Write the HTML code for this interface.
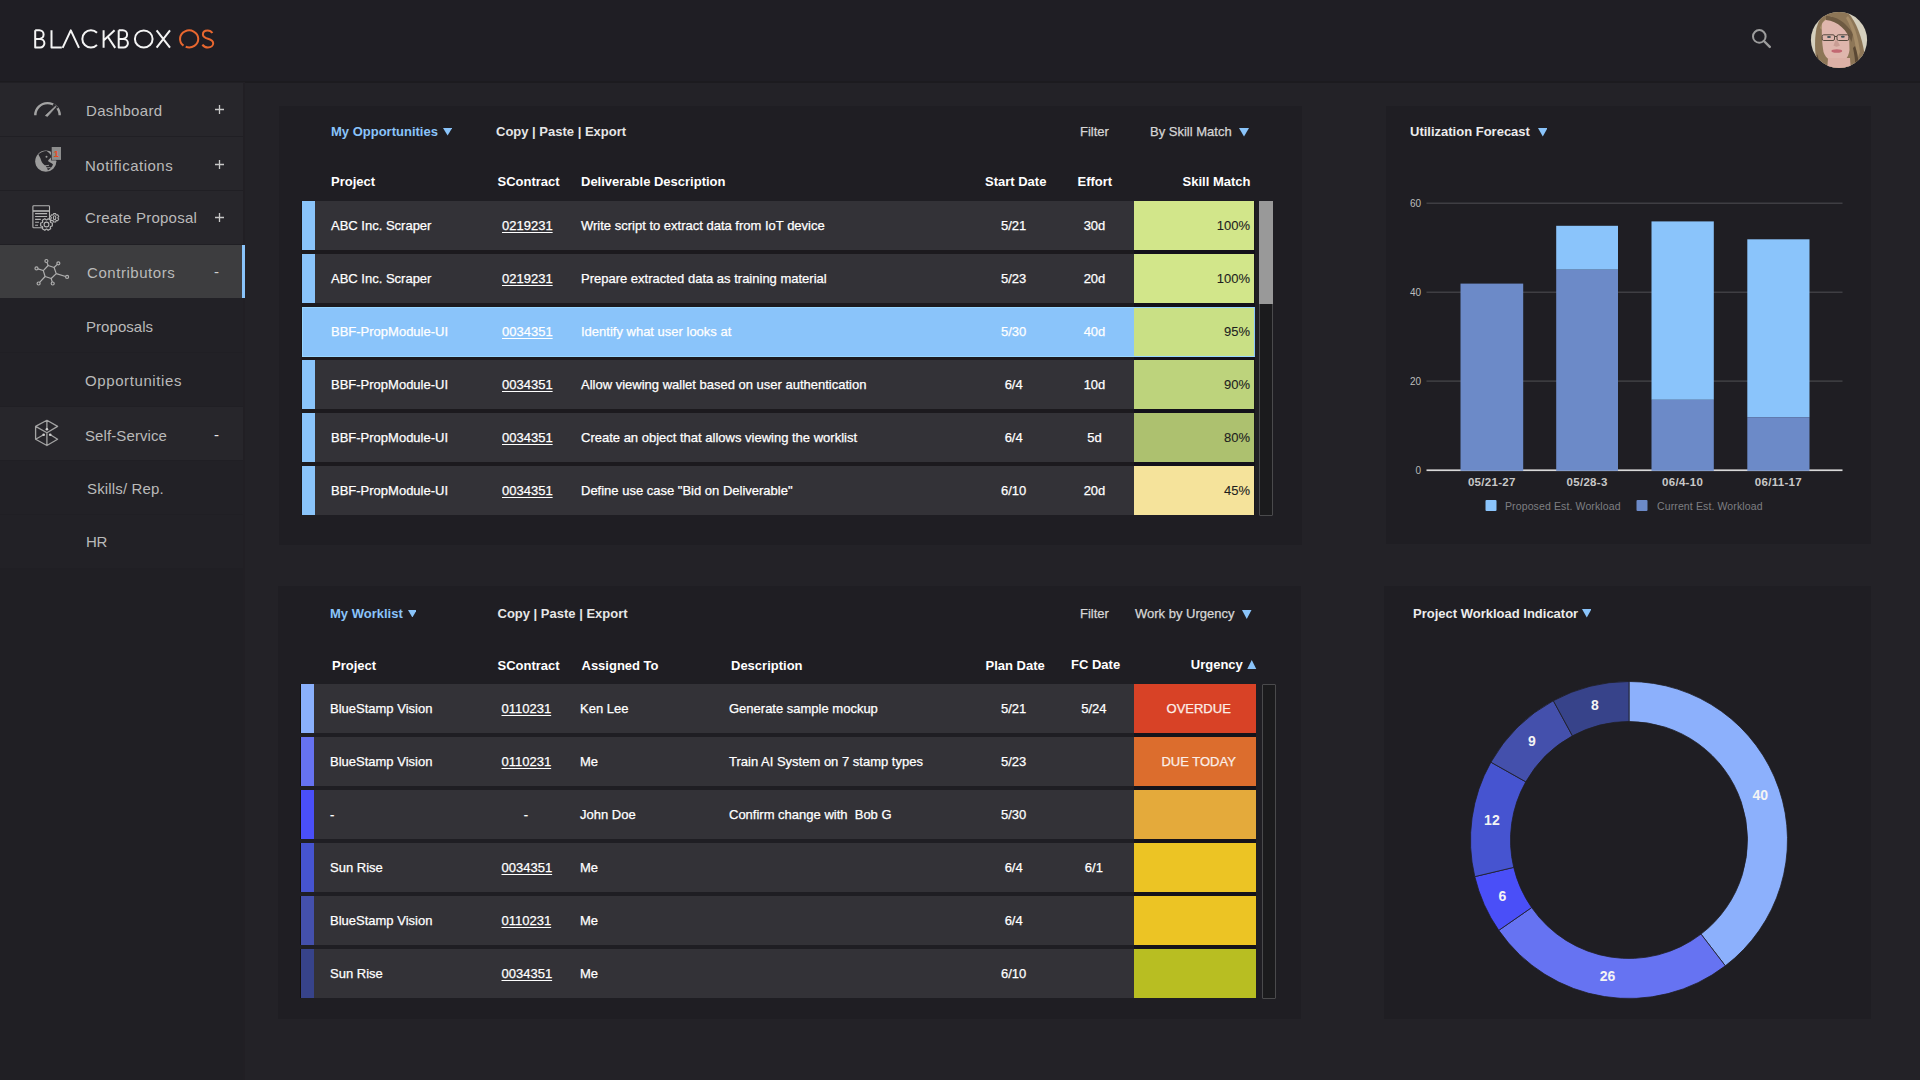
<!DOCTYPE html>
<html><head><meta charset="utf-8">
<style>
*{margin:0;padding:0;box-sizing:border-box}
html,body{width:1920px;height:1080px;overflow:hidden;background:#232227;font-family:"Liberation Sans",sans-serif}
.abs{position:absolute}
#header{position:absolute;left:0;top:0;width:1920px;height:83px;background:#1f1e24;border-bottom:2px solid #1c1b1f}
#side{position:absolute;left:0;top:82px;width:243px;height:998px;background:#201f24}
#sideline{position:absolute;left:243px;top:82px;width:2px;height:998px;background:#211f24}
.si{position:absolute;left:0;width:243px;color:#bababa;font-size:15px}
.si .t{position:absolute;white-space:nowrap}
.si .pm{position:absolute;left:214px;width:11px;height:11px}
.main{background:#27262b}
.sub{background:#222126}
.panel{position:absolute;background:#1f1e23}
.txt{position:absolute;white-space:nowrap;font-size:13px;color:#fff;line-height:16px;-webkit-text-stroke:0.25px currentColor}
.txt.b{-webkit-text-stroke:0}
.b{font-weight:bold}
.blue{color:#8ac4fa}
.row{position:absolute;left:302px;height:49px;background:#333237}
.bar{position:absolute;left:0;top:0;width:13px;height:49px}
.u{text-decoration:underline;text-underline-offset:2px}
</style></head>
<body>
<div id="header">
  <svg class="abs" style="left:0;top:0" width="240" height="82" fill="none" stroke-width="2">
    <g stroke="#f4f4f4" stroke-linejoin="round">
      <path d="M35.2,30.3V47.5H40.1a4.3,4.3 0 0 0 0-8.6H35.2M35.2,38.9H39.3a4.3,4.3 0 0 0 0-8.6H35.2"/>
      <path d="M51.5,30.3V47.5H61.8"/>
      <path d="M62.6,47.9L70.8,30.4L79.0,47.9"/>
      <path d="M97.0,32.8A8.6,8.6 0 1 0 97.0,45.0"/>
      <path d="M103.6,30.3V47.7M114.6,30.3L103.9,40.3M107.8,36.8L115.2,47.9"/>
      <path d="M118.7,30.3V47.5H123.6a4.3,4.3 0 0 0 0-8.6H118.7M118.7,38.9H122.8a4.3,4.3 0 0 0 0-8.6H118.7"/>
      <ellipse cx="143.75" cy="38.9" rx="8.85" ry="8.5"/>
      <path d="M156.6,30.3L170,47.7M170,30.3L156.6,47.7"/>
    </g>
    <g stroke="#e8672f">
      <path d="M183.5,45.6A9.1,8.5 0 1 1 185.7,46.8"/>
      <path d="M212.4,33.0C211.3,31.3 209.6,30.4 207.6,30.4C204.7,30.4 202.9,32.2 202.9,34.4C202.9,39.9 213.2,37.6 213.2,43.3C213.2,45.8 211.0,47.5 207.9,47.5C205.5,47.5 203.6,46.4 202.4,44.6"/>
    </g>
  </svg>
  <svg class="abs" style="left:1745px;top:22px" width="35" height="35" fill="none" stroke="#9d9d9d" stroke-width="2">
    <circle cx="14.3" cy="14.4" r="6.3"/><path d="M18.9,19L24.8,24.9" stroke-width="2.4" stroke-linecap="round"/>
  </svg>
  <svg class="abs" style="left:1806px;top:8px" width="66" height="64">
    <defs><clipPath id="av"><circle cx="33" cy="32" r="28.1"/></clipPath></defs>
    <g clip-path="url(#av)">
      <rect x="0" y="0" width="66" height="64" fill="#d5d0be"/>
      <path d="M18,5 C26,2 36,2 42,5 C50,13 56,29 58.5,46 L57,56 L46,64 L20,64 L11,56 C8.5,45 8.5,30 10.5,20 C12.5,13 15,8.5 18,5Z" fill="#8d7657"/>
      <path d="M14,20 C16,14 20,9 26,8 L24,12 C19,14 17,18 16,22Z" fill="#a88f6c"/>
      <path d="M16,16 C18,11 24,10 28,11 C34,12 40,18 43,24 L43.5,42 C42.5,50 38.5,54 33,54.5 C26,54.5 19.5,50.5 17.5,44 C16,36 15.5,25 16,16Z" fill="#dfb6ad"/>
      <path d="M22,50 L44,50 L45,64 L21,64Z" fill="#dcb0a6"/>
      <path d="M20,8 C30,8 40,14 47,26 L45.5,34 C41,22 32,13 20,12Z" fill="#6e5a42"/>
      <path d="M42,8 C48,16 52,28 54,44 L51,52 C50,36 47,22 40,10Z" fill="#a58c68"/>
      <path d="M11,46 C13,54 17,60 22,64 L16,64 C12,60 10.5,53 11,46Z" fill="#4d3e30"/>
      <path d="M47,40 C49,50 50,56 48,62 L52,60 C53,54 52,46 49,38Z" fill="#5a4834"/>
      <rect x="16.2" y="26.8" width="12.3" height="5.7" rx="1.5" fill="none" stroke="#55493e" stroke-width="1"/>
      <rect x="31" y="26.8" width="11.8" height="5.7" rx="1.5" fill="none" stroke="#55493e" stroke-width="1"/>
      <path d="M28.5,28.5 L31,28.5" stroke="#55493e" stroke-width="1"/>
      <ellipse cx="23" cy="29" rx="2" ry="1" fill="#3f5258"/>
      <ellipse cx="36.8" cy="28.8" rx="2" ry="1" fill="#3f5258"/>
      <path d="M29.5,32 L27.5,37.5 C29,39 32,39 34,37.5 L31.5,33Z" fill="#c99d94"/>
      <ellipse cx="30.8" cy="43" rx="5.4" ry="1.8" fill="#c26872"/>
    </g>
  </svg>
</div>

<div id="side"></div>
<div id="sideline"></div>
<!-- sidebar items -->
<div class="si main" style="top:83px;height:53px">
  <svg class="abs" style="left:0;top:-1px" width="70" height="54" fill="none" stroke="#a3a3a3">
    <path d="M35.3,33.3A12.2,12.2 0 0 1 59.7,33.3" stroke-width="2.4"/>
    <path d="M53.2,22.4L57.6,26.2" stroke="#27262b" stroke-width="2.2"/>
    <path d="M45.3,33.6L47.4,34.6L56.2,24.6L55.6,24.1Z" fill="#a3a3a3" stroke-width="0.6"/>
  </svg>
  <span class="t" style="left:86px;top:19px;letter-spacing:0.35px">Dashboard</span>
  <svg class="pm" style="top:21px" viewBox="0 0 11 11"><path d="M1,5.5H10M5.5,1V10" stroke="#c8c8c8" stroke-width="1.3"/></svg>
</div>
<div class="si main" style="top:137px;height:53px">
  <svg class="abs" style="left:0;top:0" width="70" height="53">
    <circle cx="45.8" cy="24.2" r="10.6" fill="#9c9c9c"/>
    <path d="M38.5,17.2C40.5,15.5 43.5,14.3 46.5,14.1C48.5,15.5 50.5,17 51.5,19.5C50.8,21.5 48.5,22 48,24C49.5,25.5 52,25.8 53,27.5C52.2,30 50,32 48,33.2C46.8,31.5 46.5,29 44.5,28C42.5,26.5 41,24 40.5,21.5C39.8,19.8 38.8,18.5 38.5,17.2Z" fill="#27262b"/>
    <circle cx="46.5" cy="19.8" r="1" fill="#9c9c9c"/>
    <path d="M45,28.8L49,28.3M46,31L50.5,30.5" stroke="#9c9c9c" stroke-width="0.9"/>
    <rect x="51" y="9.4" width="10.6" height="14" fill="#27262b"/>
    <rect x="51.7" y="10" width="9.3" height="12.9" fill="#8d8d8d"/>
    <text x="56.1" y="19.9" font-family="Liberation Sans" font-weight="bold" font-size="9.5" fill="#e84a1e" text-anchor="middle">1</text>
  </svg>
  <span class="t" style="left:85px;top:20px;letter-spacing:0.5px">Notifications</span>
  <svg class="pm" style="top:22px" viewBox="0 0 11 11"><path d="M1,5.5H10M5.5,1V10" stroke="#c8c8c8" stroke-width="1.3"/></svg>
</div>
<div class="si main" style="top:191px;height:53px">
  <svg class="abs" style="left:0;top:0" width="70" height="53" fill="none" stroke="#b4b4b4" stroke-width="1.1" stroke-linejoin="round">
    <rect x="32.9" y="14.800000000000011" width="16.6" height="22.0" rx="0.8"/>
    <path d="M33,20H49.4" stroke-width="1.6"/>
    <path d="M35.1,22.599999999999994H47.1M35.1,25.5H47.1M35.1,28.400000000000006H40.8M35.1,31.30000000000001H38.9M35.1,34.19999999999999H38"/>
    <path d="M50.63,31.48 L52.32,32.05 L52.32,34.95 L50.63,35.52 L50.31,36.07 L50.67,37.82 L48.15,39.27 L46.82,38.09 L46.18,38.09 L44.85,39.27 L42.33,37.82 L42.69,36.07 L42.37,35.52 L40.68,34.95 L40.68,32.05 L42.37,31.48 L42.69,30.93 L42.33,29.18 L44.85,27.73 L46.18,28.91 L46.82,28.91 L48.15,27.73 L50.67,29.18 L50.31,30.93Z" fill="#27262b" stroke-width="1.2"/>
    <circle cx="46.5" cy="33.5" r="2.4"/>
    <path d="M57.89,27.03 L58.73,27.99 L57.69,29.79 L56.45,29.54 L56.05,29.77 L55.64,30.97 L53.56,30.97 L53.15,29.77 L52.75,29.54 L51.51,29.79 L50.47,27.99 L51.31,27.03 L51.31,26.57 L50.47,25.61 L51.51,23.81 L52.75,24.06 L53.15,23.83 L53.56,22.63 L55.64,22.63 L56.05,23.83 L56.45,24.06 L57.69,23.81 L58.73,25.61 L57.89,26.57Z" fill="#27262b" stroke-width="1.1"/>
    <ellipse cx="54.6" cy="26.80000000000001" rx="1.2" ry="2" />
  </svg>
  <span class="t" style="left:85px;top:18px;letter-spacing:0.25px">Create Proposal</span>
  <svg class="pm" style="top:21px" viewBox="0 0 11 11"><path d="M1,5.5H10M5.5,1V10" stroke="#c8c8c8" stroke-width="1.3"/></svg>
</div>
<div class="si" style="top:245px;height:53px;background:#3d3d3f">
  <svg class="abs" style="left:0;top:0" width="72" height="53" fill="none" stroke="#aeaeae" stroke-width="1.2" stroke-linejoin="round">
    <path d="M48.15,20.50 L54.1,22.50 L56.25,28.60 L51.2,33.50 L45.1,31.50 L43.3,25.55Z"/>
    <path d="M48.15,20.50L46.94,17.40M54.1,22.50L57.28,19.35M43.3,25.55L37.93,23.89M56.25,28.60L65.66,31.46M45.1,31.50L39.62,37.40M51.2,33.50L52.27,37.06"/>
    <circle cx="46.4" cy="16.00" r="1.5"/><circle cx="58.35" cy="18.30" r="1.5"/><circle cx="36.5" cy="23.45" r="1.5"/><circle cx="67.1" cy="31.90" r="1.5"/><circle cx="38.6" cy="38.50" r="1.5"/><circle cx="52.7" cy="38.50" r="1.5"/>
  </svg>
  <span class="t" style="left:87px;top:19px;letter-spacing:0.55px">Contributors</span>
  <span class="t" style="left:214px;top:18px;color:#d0d0d0">-</span>
  <div class="abs" style="left:242px;top:0;width:3px;height:53px;background:#8ac4fa"></div>
</div>
<div class="si sub" style="top:298px;height:54px"><span class="t" style="left:86px;top:20px;letter-spacing:0.05px">Proposals</span></div>
<div class="si sub" style="top:353px;height:53px"><span class="t" style="left:85px;top:19px;letter-spacing:0.6px">Opportunities</span></div>
<div class="si main" style="top:407px;height:53px">
  <svg class="abs" style="left:0;top:0" width="70" height="53" fill="none" stroke="#a3a3a3" stroke-width="1.3" stroke-linejoin="round" stroke-linecap="round">
    <path d="M35.6,19.4L46.9,13.3L57.6,19.4L46.9,25.7L35.6,19.4V32.2L46.9,38.5L57.6,32.2L51.2,28.3M35.6,32.2L42.7,28.3M46.9,25.7V38.5M46.9,13.3V21.4"/>
    <g fill="#d0d0d0" stroke="none"><circle cx="46.9" cy="22.3" r="1.3"/><circle cx="43.7" cy="27.8" r="1.3"/><circle cx="50.2" cy="27.8" r="1.3"/></g>
  </svg>
  <span class="t" style="left:85px;top:20px;letter-spacing:0.1px">Self-Service</span>
  <span class="t" style="left:214px;top:18.5px;color:#e8e8e8">-</span>
</div>
<div class="si sub" style="top:461px;height:53px"><span class="t" style="left:87px;top:19px;letter-spacing:0.15px">Skills/ Rep.</span></div>
<div class="si sub" style="top:515px;height:53px"><span class="t" style="left:86px;top:18px;letter-spacing:-0.3px">HR</span></div>

<!-- PANELS -->
<div class="panel" style="left:279px;top:106px;width:1023px;height:439px"></div>
<div class="panel" style="left:1386px;top:106px;width:485px;height:438px"></div>
<div class="panel" style="left:278px;top:586px;width:1023px;height:433px"></div>
<div class="panel" style="left:1384px;top:586px;width:487px;height:433px"></div>
<span class="txt b blue" style="left:331px;top:124px;">My Opportunities</span>
<svg class="abs" style="left:442.5px;top:128.3px" width="9.2" height="7.5"><path d="M0,0L9.2,0L4.6,7.5Z" fill="#8ac4fa"/></svg>
<span class="txt b" style="left:496px;top:124px;color:#e6e6e6">Copy | Paste | Export</span>
<span class="txt " style="left:1080px;top:124px;color:#d6d6d6">Filter</span>
<span class="txt " style="left:1150px;top:124px;color:#d6d6d6">By Skill Match</span>
<svg class="abs" style="left:1239px;top:128px" width="10" height="8.5"><path d="M0,0L10,0L5.0,8.5Z" fill="#8ac4fa"/></svg>
<span class="txt b" style="left:331px;top:174px;">Project</span>
<span class="txt b" style="left:497.5px;top:174px;">SContract</span>
<span class="txt b" style="left:581px;top:174px;">Deliverable Description</span>
<span class="txt b" style="left:985px;top:174px;">Start Date</span>
<span class="txt b" style="left:1077.5px;top:174px;">Effort</span>
<span class="txt b" style="left:1050.5px;top:174px;width:200px;text-align:right;">Skill Match</span>
<div class="abs" style="left:301px;top:201px;width:954px;height:314px;background:#1c1a1e"></div>
<div class="abs" style="left:1134px;top:201px;width:121px;height:314px;background:#13111a"></div>
<div class="abs" style="left:301px;top:201px;width:954px;height:49px;background:#1a171b"></div>
<div class="abs" style="left:302px;top:201px;width:832px;height:49px;background:#333237"></div>
<div class="abs" style="left:302px;top:201px;width:13px;height:49px;background:#8ac4fa"></div>
<div class="abs" style="left:1134px;top:201px;width:120px;height:49px;background:#d2e68a"></div>
<span class="txt " style="left:331px;top:218px;">ABC Inc. Scraper</span>
<span class="txt u" style="left:502px;top:218px;">0219231</span>
<span class="txt " style="left:581px;top:218px;">Write script to extract data from IoT device</span>
<span class="txt " style="left:953.7px;top:218px;width:120px;text-align:center;">5/21</span>
<span class="txt " style="left:1034.5px;top:218px;width:120px;text-align:center;">30d</span>
<span class="txt " style="left:1050px;top:218px;width:200px;text-align:right;color:#1e1e1e;-webkit-text-stroke:0.1px #1e1e1e">100%</span>
<div class="abs" style="left:301px;top:254px;width:954px;height:49px;background:#1a171b"></div>
<div class="abs" style="left:302px;top:254px;width:832px;height:49px;background:#333237"></div>
<div class="abs" style="left:302px;top:254px;width:13px;height:49px;background:#8ac4fa"></div>
<div class="abs" style="left:1134px;top:254px;width:120px;height:49px;background:#d2e68a"></div>
<span class="txt " style="left:331px;top:271px;">ABC Inc. Scraper</span>
<span class="txt u" style="left:502px;top:271px;">0219231</span>
<span class="txt " style="left:581px;top:271px;">Prepare extracted data as training material</span>
<span class="txt " style="left:953.7px;top:271px;width:120px;text-align:center;">5/23</span>
<span class="txt " style="left:1034.5px;top:271px;width:120px;text-align:center;">20d</span>
<span class="txt " style="left:1050px;top:271px;width:200px;text-align:right;color:#1e1e1e;-webkit-text-stroke:0.1px #1e1e1e">100%</span>
<div class="abs" style="left:301px;top:307px;width:954px;height:49px;background:#1a171b"></div>
<div class="abs" style="left:302px;top:307px;width:953px;height:50px;background:#8ac4fa;border:1px solid #98d6ff;border-right-color:#8ac4fa"></div>
<div class="abs" style="left:1134px;top:308px;width:120px;height:48px;background:#c9e085"></div>
<span class="txt " style="left:331px;top:324px;">BBF-PropModule-UI</span>
<span class="txt u" style="left:502px;top:324px;">0034351</span>
<span class="txt " style="left:581px;top:324px;">Identify what user looks at</span>
<span class="txt " style="left:953.7px;top:324px;width:120px;text-align:center;">5/30</span>
<span class="txt " style="left:1034.5px;top:324px;width:120px;text-align:center;">40d</span>
<span class="txt " style="left:1050px;top:324px;width:200px;text-align:right;color:#1e1e1e;-webkit-text-stroke:0.1px #1e1e1e">95%</span>
<div class="abs" style="left:301px;top:360px;width:954px;height:49px;background:#1a171b"></div>
<div class="abs" style="left:302px;top:360px;width:832px;height:49px;background:#333237"></div>
<div class="abs" style="left:302px;top:360px;width:13px;height:49px;background:#8ac4fa"></div>
<div class="abs" style="left:1134px;top:360px;width:120px;height:49px;background:#bdd37c"></div>
<span class="txt " style="left:331px;top:377px;">BBF-PropModule-UI</span>
<span class="txt u" style="left:502px;top:377px;">0034351</span>
<span class="txt " style="left:581px;top:377px;">Allow viewing wallet based on user authentication</span>
<span class="txt " style="left:953.7px;top:377px;width:120px;text-align:center;">6/4</span>
<span class="txt " style="left:1034.5px;top:377px;width:120px;text-align:center;">10d</span>
<span class="txt " style="left:1050px;top:377px;width:200px;text-align:right;color:#1e1e1e;-webkit-text-stroke:0.1px #1e1e1e">90%</span>
<div class="abs" style="left:301px;top:413px;width:954px;height:49px;background:#1a171b"></div>
<div class="abs" style="left:302px;top:413px;width:832px;height:49px;background:#333237"></div>
<div class="abs" style="left:302px;top:413px;width:13px;height:49px;background:#8ac4fa"></div>
<div class="abs" style="left:1134px;top:413px;width:120px;height:49px;background:#adc16f"></div>
<span class="txt " style="left:331px;top:430px;">BBF-PropModule-UI</span>
<span class="txt u" style="left:502px;top:430px;">0034351</span>
<span class="txt " style="left:581px;top:430px;">Create an object that allows viewing the worklist</span>
<span class="txt " style="left:953.7px;top:430px;width:120px;text-align:center;">6/4</span>
<span class="txt " style="left:1034.5px;top:430px;width:120px;text-align:center;">5d</span>
<span class="txt " style="left:1050px;top:430px;width:200px;text-align:right;color:#1e1e1e;-webkit-text-stroke:0.1px #1e1e1e">80%</span>
<div class="abs" style="left:301px;top:466px;width:954px;height:49px;background:#1a171b"></div>
<div class="abs" style="left:302px;top:466px;width:832px;height:49px;background:#333237"></div>
<div class="abs" style="left:302px;top:466px;width:13px;height:49px;background:#8ac4fa"></div>
<div class="abs" style="left:1134px;top:466px;width:120px;height:49px;background:#f5e39b"></div>
<span class="txt " style="left:331px;top:483px;">BBF-PropModule-UI</span>
<span class="txt u" style="left:502px;top:483px;">0034351</span>
<span class="txt " style="left:581px;top:483px;">Define use case "Bid on Deliverable"</span>
<span class="txt " style="left:953.7px;top:483px;width:120px;text-align:center;">6/10</span>
<span class="txt " style="left:1034.5px;top:483px;width:120px;text-align:center;">20d</span>
<span class="txt " style="left:1050px;top:483px;width:200px;text-align:right;color:#1e1e1e;-webkit-text-stroke:0.1px #1e1e1e">45%</span>
<div class="abs" style="left:1259px;top:201px;width:14px;height:315px;background:#1b1b1d;border:1px solid #4a4a4c;border-radius:1px"></div>
<div class="abs" style="left:1259px;top:201px;width:14px;height:103px;background:#999999"></div>
<span class="txt b blue" style="left:330px;top:606px;">My Worklist</span>
<svg class="abs" style="left:407.7px;top:609.5px" width="8.8" height="7.5"><path d="M0,0L8.8,0L4.4,7.5Z" fill="#8ac4fa"/></svg>
<span class="txt b" style="left:497.5px;top:606px;color:#e6e6e6">Copy | Paste | Export</span>
<span class="txt " style="left:1080px;top:606px;color:#d6d6d6">Filter</span>
<span class="txt " style="left:1135px;top:606px;color:#d6d6d6">Work by Urgency</span>
<svg class="abs" style="left:1242px;top:609.5px" width="9.5" height="9"><path d="M0,0L9.5,0L4.75,9Z" fill="#8ac4fa"/></svg>
<span class="txt b" style="left:332px;top:658px;">Project</span>
<span class="txt b" style="left:497.5px;top:658px;">SContract</span>
<span class="txt b" style="left:581.5px;top:658px;">Assigned To</span>
<span class="txt b" style="left:731px;top:658px;">Description</span>
<span class="txt b" style="left:985.5px;top:658px;">Plan Date</span>
<span class="txt b" style="left:1071px;top:657px;">FC Date</span>
<span class="txt b" style="left:1190.8px;top:657px;">Urgency</span>
<svg class="abs" style="left:1247px;top:659.5px" width="9.5" height="9.5"><path d="M0,9.5L4.75,0L9.5,9.5Z" fill="#8ac4fa"/></svg>
<div class="abs" style="left:1134px;top:684px;width:122px;height:314px;background:#15131a"></div>
<div class="abs" style="left:300px;top:684px;width:14px;height:49px;background:#140f0a"></div>
<div class="abs" style="left:301px;top:684px;width:833px;height:49px;background:#333237"></div>
<div class="abs" style="left:301px;top:684px;width:13px;height:49px;background:#8ab0fb"></div>
<div class="abs" style="left:1134px;top:684px;width:122px;height:49px;background:#d84226"></div>
<span class="txt " style="left:330px;top:701px;">BlueStamp Vision</span>
<span class="txt u" style="left:501.5px;top:701px;">0110231</span>
<span class="txt " style="left:580px;top:701px;">Ken Lee</span>
<span class="txt " style="left:729px;top:701px;">Generate sample mockup</span>
<span class="txt " style="left:953.7px;top:701px;width:120px;text-align:center;">5/21</span>
<span class="txt " style="left:1033.9px;top:701px;width:120px;text-align:center;">5/24</span>
<span class="txt " style="left:1138.7px;top:701px;width:120px;text-align:center;color:#fbeee8">OVERDUE</span>
<div class="abs" style="left:300px;top:737px;width:14px;height:49px;background:#140f0a"></div>
<div class="abs" style="left:301px;top:737px;width:833px;height:49px;background:#333237"></div>
<div class="abs" style="left:301px;top:737px;width:13px;height:49px;background:#6672f0"></div>
<div class="abs" style="left:1134px;top:737px;width:122px;height:49px;background:#dc6d2d"></div>
<span class="txt " style="left:330px;top:754px;">BlueStamp Vision</span>
<span class="txt u" style="left:501.5px;top:754px;">0110231</span>
<span class="txt " style="left:580px;top:754px;">Me</span>
<span class="txt " style="left:729px;top:754px;">Train AI System on 7 stamp types</span>
<span class="txt " style="left:953.7px;top:754px;width:120px;text-align:center;">5/23</span>
<span class="txt " style="left:1138.7px;top:754px;width:120px;text-align:center;color:#fbeee8">DUE TODAY</span>
<div class="abs" style="left:300px;top:790px;width:14px;height:49px;background:#140f0a"></div>
<div class="abs" style="left:301px;top:790px;width:833px;height:49px;background:#333237"></div>
<div class="abs" style="left:301px;top:790px;width:13px;height:49px;background:#4a4ff8"></div>
<div class="abs" style="left:1134px;top:790px;width:122px;height:49px;background:#e4aa3b"></div>
<span class="txt " style="left:330px;top:807px;">-</span>
<span class="txt " style="left:466.0px;top:807px;width:120px;text-align:center;">-</span>
<span class="txt " style="left:580px;top:807px;">John Doe</span>
<span class="txt " style="left:729px;top:807px;">Confirm change with&nbsp; Bob G</span>
<span class="txt " style="left:953.7px;top:807px;width:120px;text-align:center;">5/30</span>
<div class="abs" style="left:300px;top:843px;width:14px;height:49px;background:#140f0a"></div>
<div class="abs" style="left:301px;top:843px;width:833px;height:49px;background:#333237"></div>
<div class="abs" style="left:301px;top:843px;width:13px;height:49px;background:#4654d0"></div>
<div class="abs" style="left:1134px;top:843px;width:122px;height:49px;background:#ecc424"></div>
<span class="txt " style="left:330px;top:860px;">Sun Rise</span>
<span class="txt u" style="left:501.5px;top:860px;">0034351</span>
<span class="txt " style="left:580px;top:860px;">Me</span>
<span class="txt " style="left:729px;top:860px;"></span>
<span class="txt " style="left:953.7px;top:860px;width:120px;text-align:center;">6/4</span>
<span class="txt " style="left:1033.9px;top:860px;width:120px;text-align:center;">6/1</span>
<div class="abs" style="left:300px;top:896px;width:14px;height:49px;background:#140f0a"></div>
<div class="abs" style="left:301px;top:896px;width:833px;height:49px;background:#333237"></div>
<div class="abs" style="left:301px;top:896px;width:13px;height:49px;background:#4450ac"></div>
<div class="abs" style="left:1134px;top:896px;width:122px;height:49px;background:#ecc424"></div>
<span class="txt " style="left:330px;top:913px;">BlueStamp Vision</span>
<span class="txt u" style="left:501.5px;top:913px;">0110231</span>
<span class="txt " style="left:580px;top:913px;">Me</span>
<span class="txt " style="left:729px;top:913px;"></span>
<span class="txt " style="left:953.7px;top:913px;width:120px;text-align:center;">6/4</span>
<div class="abs" style="left:300px;top:949px;width:14px;height:49px;background:#140f0a"></div>
<div class="abs" style="left:301px;top:949px;width:833px;height:49px;background:#333237"></div>
<div class="abs" style="left:301px;top:949px;width:13px;height:49px;background:#37438a"></div>
<div class="abs" style="left:1134px;top:949px;width:122px;height:49px;background:#b8be22"></div>
<span class="txt " style="left:330px;top:966px;">Sun Rise</span>
<span class="txt u" style="left:501.5px;top:966px;">0034351</span>
<span class="txt " style="left:580px;top:966px;">Me</span>
<span class="txt " style="left:729px;top:966px;"></span>
<span class="txt " style="left:953.7px;top:966px;width:120px;text-align:center;">6/10</span>
<div class="abs" style="left:1262px;top:684px;width:14px;height:315px;background:#1b1b1d;border:1px solid #4a4a4c;border-radius:1px"></div>
<span class="txt b" style="left:1410px;top:124px;color:#ececec">Utilization Forecast</span>
<svg class="abs" style="left:1537.5px;top:128px" width="9.5" height="8.5"><path d="M0,0L9.5,0L4.75,8.5Z" fill="#8ac4fa"/></svg>
<svg class="abs" style="left:0;top:0" width="1920" height="1080" font-family="Liberation Sans"><rect x="1426.5" y="202.6" width="416" height="1.2" fill="#48484c"/><text x="1421" y="207.1" font-size="10" fill="#bdbdbd" text-anchor="end">60</text><rect x="1426.5" y="291.59999999999997" width="416" height="1.2" fill="#48484c"/><text x="1421" y="296.09999999999997" font-size="10" fill="#bdbdbd" text-anchor="end">40</text><rect x="1426.5" y="380.5" width="416" height="1.2" fill="#48484c"/><text x="1421" y="385.0" font-size="10" fill="#bdbdbd" text-anchor="end">20</text><text x="1421" y="473.5" font-size="10" fill="#b8b8b8" text-anchor="end">0</text><rect x="1426.5" y="469.4" width="416" height="1.7" fill="#d8d8d8"/><rect x="1460.5" y="283.6" width="62.700000000000045" height="187.2" fill="#6c8ac8"/><rect x="1556.2" y="225.8" width="61.799999999999955" height="43.89999999999998" fill="#8ac4fb"/><rect x="1556.2" y="269.7" width="61.799999999999955" height="201.10000000000002" fill="#6c8ac8"/><rect x="1651.5" y="221.4" width="62.299999999999955" height="178.4" fill="#8ac4fb"/><rect x="1651.5" y="399.8" width="62.299999999999955" height="71.0" fill="#6c8ac8"/><rect x="1747.3" y="239.3" width="62.200000000000045" height="177.89999999999998" fill="#8ac4fb"/><rect x="1747.3" y="417.2" width="62.200000000000045" height="53.60000000000002" fill="#6c8ac8"/><text x="1491.8" y="486" font-size="11.5" font-weight="bold" fill="#c8c8c8" text-anchor="middle" letter-spacing="0.3">05/21-27</text><text x="1587.1" y="486" font-size="11.5" font-weight="bold" fill="#c8c8c8" text-anchor="middle" letter-spacing="0.3">05/28-3</text><text x="1682.6" y="486" font-size="11.5" font-weight="bold" fill="#c8c8c8" text-anchor="middle" letter-spacing="0.3">06/4-10</text><text x="1778.4" y="486" font-size="11.5" font-weight="bold" fill="#c8c8c8" text-anchor="middle" letter-spacing="0.3">06/11-17</text><rect x="1485.5" y="500" width="11" height="11" rx="1" fill="#8ac4fb"/><text x="1505" y="509.5" font-size="10.5" fill="#7e7e82" letter-spacing="0.12">Proposed Est. Workload</text><rect x="1636.5" y="500" width="11" height="11" rx="1" fill="#6c8ac8"/><text x="1657" y="509.5" font-size="10.5" fill="#7e7e82" letter-spacing="0.12">Current Est. Workload</text><path d="M1629.00,681.50A158.5,158.5 0 0 1 1725.33,965.87L1701.02,934.11A118.5,118.5 0 0 0 1629.00,721.50Z" fill="#8cb0fc" stroke="#1f1e23" stroke-width="0.8"/><text x="1760.2" y="800.2" font-size="14" font-weight="bold" fill="#f4f4f4" text-anchor="middle">40</text><path d="M1725.33,965.87A158.5,158.5 0 0 1 1498.77,930.35L1531.64,907.55A118.5,118.5 0 0 0 1701.02,934.11Z" fill="#6673f2" stroke="#1f1e23" stroke-width="0.8"/><text x="1607.5" y="981.4" font-size="14" font-weight="bold" fill="#f4f4f4" text-anchor="middle">26</text><path d="M1498.77,930.35A158.5,158.5 0 0 1 1474.79,876.64L1513.71,867.39A118.5,118.5 0 0 0 1531.64,907.55Z" fill="#4a4ff8" stroke="#1f1e23" stroke-width="0.8"/><text x="1502.5" y="901.1" font-size="14" font-weight="bold" fill="#f4f4f4" text-anchor="middle">6</text><path d="M1474.79,876.64A158.5,158.5 0 0 1 1490.92,762.18L1525.77,781.82A118.5,118.5 0 0 0 1513.71,867.39Z" fill="#4654d0" stroke="#1f1e23" stroke-width="0.8"/><text x="1491.9" y="825.3" font-size="14" font-weight="bold" fill="#f4f4f4" text-anchor="middle">12</text><path d="M1490.92,762.18A158.5,158.5 0 0 1 1553.33,700.73L1572.43,735.87A118.5,118.5 0 0 0 1525.77,781.82Z" fill="#4450ac" stroke="#1f1e23" stroke-width="0.8"/><text x="1531.8" y="745.9" font-size="14" font-weight="bold" fill="#f4f4f4" text-anchor="middle">9</text><path d="M1553.33,700.73A158.5,158.5 0 0 1 1629.00,681.50L1629.00,721.50A118.5,118.5 0 0 0 1572.43,735.87Z" fill="#37438a" stroke="#1f1e23" stroke-width="0.8"/><text x="1594.9" y="710.4" font-size="14" font-weight="bold" fill="#f4f4f4" text-anchor="middle">8</text></svg>
<span class="txt b" style="left:1413px;top:606px;color:#ececec">Project Workload Indicator</span>
<svg class="abs" style="left:1581.5px;top:609px" width="9.5" height="8.5"><path d="M0,0L9.5,0L4.75,8.5Z" fill="#8ac4fa"/></svg>
</body></html>
